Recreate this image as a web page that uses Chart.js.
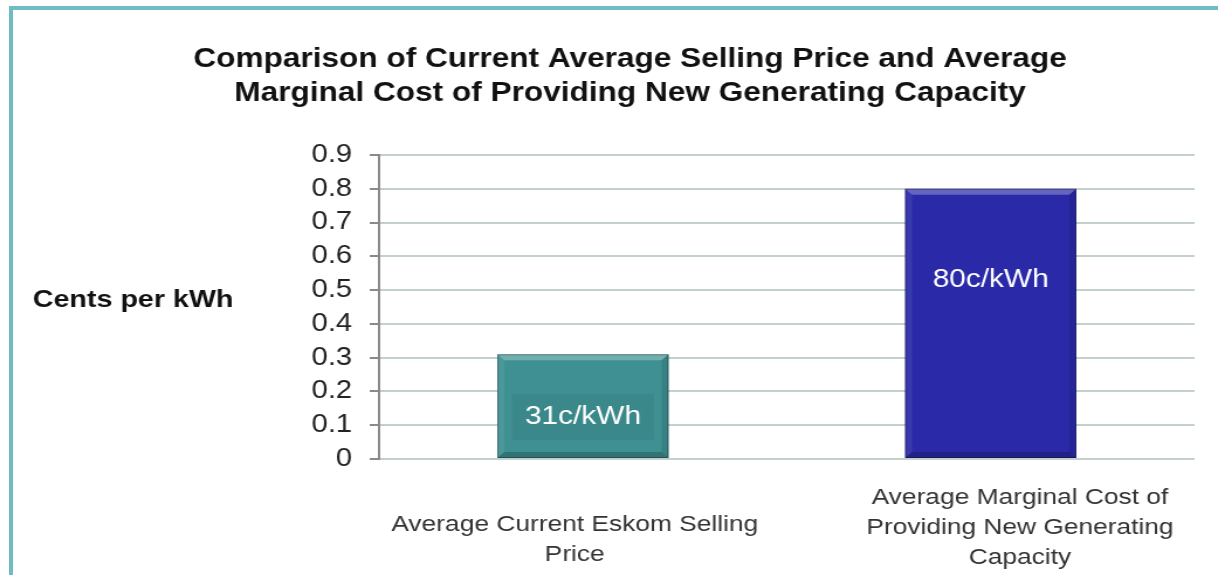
<!DOCTYPE html>
<html>
<head>
<meta charset="utf-8">
<script src="https://cdn.jsdelivr.net/npm/chart.js@4.4.1/dist/chart.umd.min.js"></script>
<style>
  html, body { margin: 0; padding: 0; background: #fff; overflow: hidden; }
  body { width: 1218px; height: 575px; position: relative; }
  .frame {
    position: absolute; left: 9px; top: 6px; width: 1400px; height: 800px;
    border-left: 4px solid #6fbcc2; border-top: 4px solid #6fbcc2;
  }
  /* the source picture is stretched sideways, so the canvas is too */
  #chart { position: absolute; left: 0; top: 0; transform: scaleX(1.17); transform-origin: 0 0; }
</style>
</head>
<body>
<div class="frame"></div>
<canvas id="chart" width="1041" height="575"></canvas>
<script>
  // Data
  const categories = [
    ['Average Current Eskom Selling', 'Price'],
    ['Average Marginal Cost of', 'Providing New Generating', 'Capacity']
  ];
  const values = [0.31, 0.80];
  const barColors = ['#3f9092', '#2a2aa8'];
  const yTicks = [0, 0.1, 0.2, 0.3, 0.4, 0.5, 0.6, 0.7, 0.8, 0.9];

  const titleLines = [
    'Comparison of Current Average Selling Price and Average',
    'Marginal Cost of Providing New Generating Capacity'
  ];
  const yAxisLabel = 'Cents per kWh';

  const FONT = '"Liberation Sans", Arial, sans-serif';

  // Axis label drawn horizontally to the left of the axis
  const axisLabelPlugin = {
    id: 'axisLabel',
    afterDraw(chart) {
      const { ctx } = chart;
      ctx.save();
      ctx.font = 'bold 24.5px ' + FONT;
      ctx.fillStyle = '#111';
      ctx.textAlign = 'left';
      ctx.textBaseline = 'middle';
      ctx.fillText(yAxisLabel, 28, 300);
      ctx.restore();
    }
  };

  // Category labels under the bars (each one sits a bit off its bar in the source)
  const labelShift = [-7, 25];
  const labelTop = [66, 39];
  const xLabelPlugin = {
    id: 'xLabels',
    afterDraw(chart) {
      const { ctx, chartArea } = chart;
      const xs = chart.scales.x;
      ctx.save();
      ctx.font = '22.5px ' + FONT;
      ctx.fillStyle = '#333';
      ctx.textAlign = 'center';
      ctx.textBaseline = 'middle';
      categories.forEach((lines, i) => {
        const x = xs.getPixelForValue(i) + labelShift[i];
        lines.forEach((line, j) => {
          ctx.fillText(line, x, chartArea.bottom + labelTop[i] + j * 30);
        });
      });
      ctx.restore();
    }
  };

  // Bevel edges and value labels on bars
  const labelPos = [0.125, 0.53];
  const bevelPlugin = {
    id: 'bevel',
    afterDatasetsDraw(chart) {
      const { ctx } = chart;
      const yScale = chart.scales.y;
      const meta = chart.getDatasetMeta(0);
      meta.data.forEach((bar, i) => {
        const l = bar.x - bar.width / 2, r = bar.x + bar.width / 2;
        const t = bar.y, b = bar.base, d = 6;
        ctx.save();
        const poly = (pts, c) => {
          ctx.beginPath();
          ctx.moveTo(pts[0][0], pts[0][1]);
          pts.slice(1).forEach(p => ctx.lineTo(p[0], p[1]));
          ctx.closePath();
          ctx.fillStyle = c;
          ctx.fill();
        };
        poly([[l, t], [r, t], [r - d, t + d], [l + d, t + d]], 'rgba(255,255,255,0.28)');
        poly([[l, t], [l + d, t + d], [l + d, b - d], [l, b]], 'rgba(255,255,255,0.07)');
        poly([[r, t], [r, b], [r - d, b - d], [r - d, t + d]], 'rgba(0,0,0,0.10)');
        poly([[l, b], [l + d, b - d], [r - d, b - d], [r, b]], 'rgba(0,0,0,0.20)');
        ctx.strokeStyle = 'rgba(0,0,0,0.30)';
        ctx.lineWidth = 1;
        ctx.strokeRect(l + 0.5, t + 0.5, r - l - 1, b - t - 1);

        // value label
        const ly = yScale.getPixelForValue(labelPos[i]);
        const text = Math.round(values[i] * 100) + 'c/kWh';
        ctx.font = '25.5px ' + FONT;
        if (i === 0) {
          const w = ctx.measureText(text).width + 22;
          ctx.fillStyle = 'rgba(0,0,0,0.05)';
          ctx.fillRect(bar.x - w / 2, ly - 23, w, 46);
        }
        ctx.fillStyle = '#fff';
        ctx.textAlign = 'center';
        ctx.textBaseline = 'middle';
        ctx.fillText(text, bar.x, ly);
        ctx.restore();
      });
    }
  };

  new Chart(document.getElementById('chart').getContext('2d'), {
    type: 'bar',
    data: {
      labels: categories,
      datasets: [{
        data: values,
        backgroundColor: barColors,
        borderWidth: 0,
        categoryPercentage: 1,
        barPercentage: 0.42
      }]
    },
    options: {
      responsive: false,
      animation: false,
      layout: { padding: { left: 56, right: 20, top: 0, bottom: 0 } },
      plugins: {
        legend: { display: false },
        tooltip: { enabled: false },
        title: {
          display: true,
          text: titleLines,
          color: '#111',
          font: { family: FONT, size: 27, weight: 'bold', lineHeight: 1.26 },
          padding: { top: 43, bottom: 44 }
        }
      },
      scales: {
        x: {
          afterFit(scale) { scale.height = 116; },
          grid: { display: false },
          border: { display: false },
          ticks: { display: false }
        },
        y: {
          min: 0,
          max: 0.9,
          afterFit(scale) { scale.width = 268; },
          afterBuildTicks(scale) { scale.ticks = yTicks.map(v => ({ value: v })); },
          grid: { color: '#c4d0d0', lineWidth: 2, tickColor: '#8a8a8a', tickLength: 8, tickWidth: 2 },
          border: { display: true, color: '#8a8a8a', width: 2 },
          ticks: {
            color: '#222',
            padding: 15,
            autoSkip: false,
            callback: v => String(Math.round(v * 10) / 10),
            font: { family: FONT, size: 25 }
          }
        }
      }
    },
    plugins: [axisLabelPlugin, xLabelPlugin, bevelPlugin]
  });
</script>
</body>
</html>
